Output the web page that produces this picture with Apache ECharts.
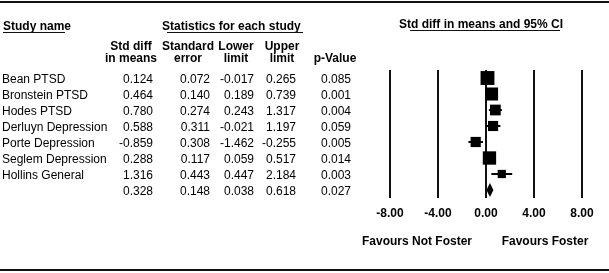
<!DOCTYPE html>
<html><head><meta charset="utf-8">
<script src="https://cdn.jsdelivr.net/npm/echarts@6/dist/echarts.min.js"></script>
<style>html,body{margin:0;padding:0;background:#fff}#c{width:609px;height:273px}</style>
</head><body><div id="c"></div>
<script>
var studies = ['Bean PTSD','Bronstein PTSD','Hodes PTSD','Derluyn Depression','Porte Depression','Seglem Depression','Hollins General',''];
var stdDiff = [0.124,0.464,0.780,0.588,-0.859,0.288,1.316,0.328];
var stdErr = [0.072,0.140,0.274,0.311,0.308,0.117,0.443,0.148];
var lower = [-0.017,0.189,0.243,-0.021,-1.462,0.059,0.447,0.038];
var upper = [0.265,0.739,1.317,1.197,-0.255,0.517,2.184,0.618];
var pValue = ['0.085','0.001','0.004','0.059','0.005','0.014','0.003','0.027'];
var stdDiffTxt = ['0.124','0.464','0.780','0.588','-0.859','0.288','1.316','0.328'];
var stdErrTxt = ['0.072','0.140','0.274','0.311','0.308','0.117','0.443','0.148'];
var lowerTxt = ['-0.017','0.189','0.243','-0.021','-1.462','0.059','0.447','0.038'];
var upperTxt = ['0.265','0.739','1.317','1.197','-0.255','0.517','2.184','0.618'];
var xTicks = [-8,-4,0,4,8];
var tau2 = 0.1;

var nStudy = 7;
var FONT = '"Liberation Sans", Arial, sans-serif';
var chart = echarts.init(document.getElementById('c'), null, {renderer:'canvas'});

var sq = [];
for (var i=0;i<nStudy;i++){
  var w = 1/(stdErr[i]*stdErr[i]+tau2);
  sq.push({value:[stdDiff[i], i], symbolSize: 4.5*Math.sqrt(w)});
}
var ciData = [];
for (var i=0;i<nStudy;i++) ciData.push([lower[i], upper[i], i]);
var sumIdx = nStudy;

chart.setOption({
  animation:false,
  grid:{left:390, right:27, top:70, bottom:75},
  xAxis:{type:'value', min:xTicks[0], max:xTicks[xTicks.length-1], interval:xTicks[1]-xTicks[0],
    axisLine:{show:false}, axisTick:{show:false},
    splitLine:{show:true, lineStyle:{color:'#111', width:2}},
    axisLabel:{show:true, margin:10, fontFamily:FONT, fontSize:12, fontWeight:'bold', color:'#000',
      formatter:function(v){return v.toFixed(2);} }},
  yAxis:{type:'value', min:-0.5, max:7.5, inverse:true, show:false, splitLine:{show:false}},
  series:[
    {type:'custom', renderItem:function(params, api){
        var a = api.coord([api.value(0), api.value(2)]);
        var b = api.coord([api.value(1), api.value(2)]);
        return {type:'line', shape:{x1:a[0],y1:a[1],x2:b[0],y2:b[1]}, style:{stroke:'#000', lineWidth:2}};
      }, data:ciData, encode:{x:[0,1], y:2}, z:3},
    {type:'scatter', symbol:'rect', data:sq, itemStyle:{color:'#000', opacity:1}, z:4},
    {type:'custom', renderItem:function(params, api){
        var l = api.coord([api.value(0), api.value(3)]);
        var m = api.coord([api.value(1), api.value(3)]);
        var u = api.coord([api.value(2), api.value(3)]);
        var h = 7;
        return {type:'polygon', shape:{points:[[l[0],m[1]],[m[0],m[1]-h],[u[0],m[1]],[m[0],m[1]+h]]}, style:{fill:'#000'}};
      }, data:[[lower[sumIdx], stdDiff[sumIdx], upper[sumIdx], sumIdx]], encode:{x:[0,1,2], y:3}, z:4}
  ]
});

var g = [];
function txt(x,y,s,align,bold){
  g.push({type:'text', x:x, y:y, silent:true, style:{text:s, font:(bold?'bold ':'')+'12px '+FONT, fill:'#000', align:align, verticalAlign:'middle'}});
}
function hline(x1,x2,y,w){
  g.push({type:'line', silent:true, shape:{x1:x1,y1:y,x2:x2,y2:y}, style:{stroke:'#111', lineWidth:w}});
}
hline(0,609,2,2);
hline(0,609,270,2);
txt(3,27,'Study name','left',true); hline(3,65,32.5,1.2);
txt(162,27,'Statistics for each study','left',true); hline(167,303,32.5,1.2);
txt(399,25,'Std diff in means and 95% CI','left',true); hline(410,560,30.5,1.2);
txt(131,47,'Std diff','center',true); txt(131,59,'in means','center',true);
txt(188,47,'Standard','center',true); txt(188,59,'error','center',true);
txt(236,47,'Lower','center',true); txt(236,59,'limit','center',true);
txt(282,47,'Upper','center',true); txt(282,59,'limit','center',true);
txt(335,59,'p-Value','center',true);
for (var i=0;i<studies.length;i++){
  var y = chart.convertToPixel({gridIndex:0},[0,i])[1] + 1.5;
  if (studies[i]) txt(2,y,studies[i],'left',false);
  txt(153,y,stdDiffTxt[i],'right',false);
  txt(210,y,stdErrTxt[i],'right',false);
  txt(254,y,lowerTxt[i],'right',false);
  txt(296,y,upperTxt[i],'right',false);
  txt(336,y,pValue[i],'center',false);
}
txt(417,242,'Favours Not Foster','center',true);
txt(545,242,'Favours Foster','center',true);
chart.setOption({graphic:g});
</script></body></html>
